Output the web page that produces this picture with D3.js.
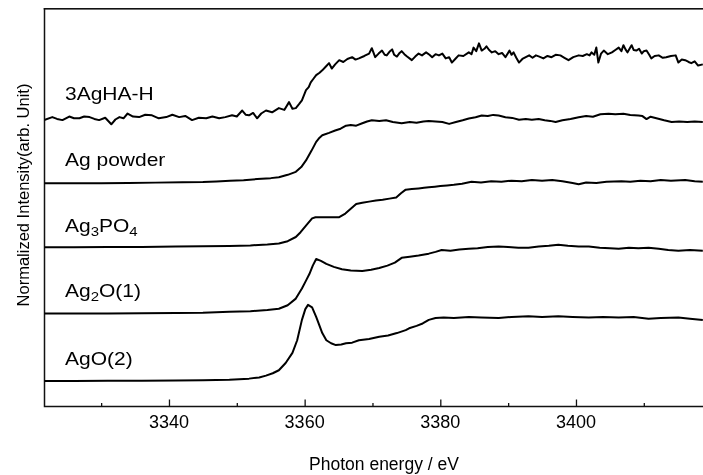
<!DOCTYPE html>
<html>
<head>
<meta charset="utf-8">
<script src="https://cdn.jsdelivr.net/npm/d3@7"></script>
<style>
  html, body { margin: 0; padding: 0; background: #fff; overflow: hidden; width: 703px; height: 475px; }
  #chart { position: fixed; left: 0; top: 0; width: 703px; height: 475px; }
  svg { display: block; font-family: "Liberation Sans", Arial, sans-serif; }
</style>
</head>
<body>
<div id="chart"></div>
<script>
// Sample names (top to bottom) and vertical offsets (arb. unit)
const sampleNames = ['3AgHA-H', 'Ag powder', 'Ag3PO4', 'Ag2O(1)', 'AgO(2)'];
const sampleOffsets = [4.808, 3.725, 2.658, 1.55, 0.425];

const xTicksMajor = [3340, 3360, 3380, 3400];
const xTicksMinor = [3330, 3350, 3370, 3390, 3410];

// Normalized spectra: [photon energy (eV), intensity]
const agHA = [
  [3321.6,-0.03],[3322.8,0.02],[3323.5,-0.01],[3324.3,-0.03],[3325.3,0.03],[3326,0.0],[3326.8,0.0],[3327.5,0.03],[3328.3,0.02],
  [3329,-0.01],[3329.7,-0.03],[3330.6,0.01],[3331.5,-0.10],[3332.1,-0.02],[3332.7,0.02],[3333.3,0.0],[3333.9,0.08],[3334.7,0.03],
  [3335.6,0.02],[3336.5,0.06],[3337.5,0.05],[3338.5,0.0],[3339.6,0.02],[3340.5,0.06],[3341.5,0.02],[3342.4,0.04],[3343.4,-0.03],
  [3344.4,0.01],[3345.5,0.0],[3346.4,0.03],[3347.4,0.0],[3348.3,0.02],[3349.3,0.05],[3350,0.03],[3350.8,0.13],[3351.3,0.06],
  [3351.8,0.05],[3352.4,0.09],[3353.0,0.0],[3353.6,0.08],[3354.3,0.13],[3355.2,0.10],[3356.2,0.17],[3357,0.14],[3357.7,0.27],
  [3358.2,0.16],[3358.7,0.17],[3359.2,0.24],[3359.6,0.30],[3360.2,0.47],[3360.6,0.52],[3360.9,0.60],[3361.3,0.66],[3361.7,0.72],
  [3362.2,0.76],[3362.6,0.80],[3363.1,0.86],[3363.6,0.92],[3364.0,0.83],[3364.5,0.90],[3365.1,0.97],[3365.7,0.94],[3366.3,0.99],
  [3367.0,1.02],[3367.5,0.98],[3368.0,1.00],[3368.8,1.04],[3369.5,1.08],[3369.9,1.17],[3370.4,1.02],[3370.9,1.08],[3371.4,1.13],
  [3371.8,1.06],[3372.1,1.05],[3372.5,1.11],[3372.9,1.15],[3373.2,1.06],[3373.6,1.03],[3374.0,1.09],[3374.3,1.12],[3374.7,1.07],
  [3375.1,1.03],[3375.8,0.97],[3376.3,1.03],[3376.8,1.08],[3377.3,1.05],[3377.9,1.10],[3378.4,1.06],[3378.8,1.02],[3379.3,1.07],
  [3379.8,1.05],[3380.3,1.08],[3380.8,1.00],[3381.3,1.02],[3381.7,0.93],[3382.2,0.99],[3382.7,1.05],[3383.4,1.04],[3384.2,1.10],
  [3384.6,1.07],[3384.9,1.18],[3385.3,1.12],[3385.7,1.25],[3386.1,1.13],[3386.5,1.16],[3386.8,1.20],[3387.2,1.14],[3387.6,1.10],
  [3388.1,1.12],[3388.6,1.07],[3389.1,1.09],[3389.6,1.02],[3390.2,1.13],[3390.5,1.06],[3390.8,1.10],[3391.2,1.01],[3391.6,0.93],
  [3392.1,0.99],[3392.6,1.02],[3393.1,1.05],[3393.6,1.01],[3394.1,1.05],[3394.6,1.03],[3395.2,1.00],[3395.8,1.04],[3396.4,1.02],
  [3397.0,1.06],[3397.7,1.05],[3398.3,1.01],[3398.9,0.97],[3399.6,1.02],[3400.4,1.05],[3401.0,1.04],[3401.6,1.07],[3402.0,1.05],
  [3402.3,1.10],[3402.7,1.06],[3403.0,1.18],[3403.3,0.93],[3403.7,1.08],[3404.1,1.13],[3404.7,1.07],[3405.3,1.10],[3405.8,1.14],
  [3406.3,1.18],[3406.7,1.12],[3407.0,1.22],[3407.3,1.15],[3407.6,1.10],[3407.9,1.16],[3408.2,1.22],[3408.5,1.14],[3408.9,1.13],
  [3409.3,1.16],[3409.7,1.08],[3410.0,1.12],[3410.4,1.13],[3410.8,1.06],[3411.1,1.00],[3411.6,1.04],[3412.2,1.05],[3412.8,1.01],
  [3413.3,1.02],[3414.0,1.04],[3414.7,1.05],[3415.1,0.93],[3415.6,0.98],[3416.1,0.97],[3416.6,0.94],[3417.0,0.92],[3417.5,0.95],
  [3418.0,0.88],[3418.7,0.90]
];

const agPowder = [
  [3321.6,0.0],[3326,0.0],[3330,0.0],[3334,0.005],[3338,0.01],[3342,0.015],[3345,0.02],[3347,0.03],[3349,0.04],[3351,0.05],
  [3353,0.07],[3355,0.085],[3356.2,0.10],[3357.5,0.14],[3358.7,0.19],[3359.5,0.27],[3360.2,0.38],[3361,0.54],[3361.7,0.69],
  [3362.2,0.76],[3362.6,0.80],[3363.6,0.84],[3364.5,0.88],[3365.3,0.91],[3366.1,0.96],[3366.8,0.97],[3367.6,0.96],[3368.5,1.00],
  [3369.2,1.03],[3369.9,1.05],[3371,1.04],[3372,1.05],[3373,1.02],[3374.3,1.00],[3375.5,1.02],[3376.5,1.01],[3377.5,1.03],
  [3378.3,1.04],[3379.3,1.03],[3380.3,1.02],[3381.3,0.99],[3382.3,1.02],[3383.3,1.05],[3384.2,1.08],[3385.2,1.10],[3386.1,1.13],
  [3387,1.12],[3387.8,1.14],[3388.6,1.13],[3389.6,1.10],[3390.6,1.09],[3391.6,1.06],[3392.6,1.07],[3393.5,1.06],[3394.5,1.07],
  [3395.4,1.05],[3396.2,1.04],[3397,1.02],[3398,1.05],[3399.2,1.07],[3400.4,1.10],[3401.5,1.12],[3402.5,1.11],[3403.6,1.15],
  [3404.8,1.16],[3405.8,1.15],[3407,1.16],[3408,1.14],[3409.2,1.13],[3409.8,1.12],[3410.4,1.07],[3411,1.11],[3412,1.08],
  [3413,1.05],[3414.1,1.02],[3415.2,1.03],[3416.4,1.02],[3417.5,1.03],[3418.7,1.02]
];

const ag3po4 = [
  [3321.6,0],[3326,0],[3331,0.003],[3336,0.005],[3341,0.01],[3345,0.015],[3348.9,0.02],[3352,0.03],[3354.5,0.045],[3356.2,0.06],
  [3357.5,0.10],[3358.7,0.17],[3359.4,0.25],[3360.2,0.36],[3361.1,0.48],[3361.6,0.50],[3362.1,0.50],[3363.5,0.50],[3365.1,0.50],
  [3366,0.56],[3366.8,0.64],[3367.6,0.72],[3368.5,0.74],[3369.5,0.76],[3370.5,0.78],[3371.5,0.79],[3372.5,0.81],[3373.5,0.83],
  [3374.2,0.90],[3374.9,0.96],[3375.8,0.97],[3376.8,0.98],[3377.6,0.99],[3378.3,1.00],[3379.2,1.01],[3380,1.02],[3381,1.03],
  [3382,1.04],[3383.2,1.06],[3384.6,1.09],[3386,1.08],[3387.5,1.10],[3389,1.09],[3390.5,1.11],[3392,1.10],[3393.5,1.12],
  [3395,1.11],[3396.5,1.12],[3398,1.10],[3399.5,1.07],[3400.4,1.05],[3401.5,1.08],[3403,1.07],[3404.5,1.09],[3406.7,1.10],
  [3408,1.09],[3409.5,1.11],[3411,1.10],[3412.5,1.12],[3414,1.11],[3416.1,1.12],[3417.5,1.10],[3418.7,1.09]
];

const ag2o = [
  [3321.6,0],[3326,0],[3331,0.003],[3336,0.006],[3341,0.01],[3345,0.015],[3348.9,0.03],[3352,0.04],[3354.5,0.06],[3356.2,0.08],
  [3357.5,0.14],[3358.7,0.25],[3359.6,0.42],[3360.2,0.55],[3360.7,0.66],[3361.2,0.80],[3361.7,0.91],[3362.4,0.88],[3363.2,0.83],
  [3364.3,0.78],[3365.5,0.74],[3366.8,0.72],[3368.5,0.71],[3369.8,0.73],[3371,0.76],[3372.2,0.80],[3373.3,0.85],[3374.3,0.93],
  [3375.5,0.95],[3376.8,0.97],[3378.3,1.00],[3379.3,1.03],[3380.2,1.06],[3381.5,1.05],[3382.8,1.07],[3384.2,1.08],[3385.5,1.09],
  [3387,1.11],[3388.6,1.12],[3390,1.11],[3391.5,1.10],[3393,1.10],[3394.5,1.12],[3396,1.13],[3397.4,1.15],[3398.8,1.13],
  [3400.4,1.12],[3401.9,1.12],[3403.5,1.10],[3405,1.09],[3406.3,1.08],[3407.8,1.10],[3409.2,1.09],[3410.7,1.10],[3412.2,1.08],
  [3413.6,1.06],[3415.1,1.05],[3416.8,1.06],[3418.7,1.05]
];

const agO = [
  [3321.6,0],[3326,0],[3331,0.003],[3336,0.006],[3341,0.01],[3345,0.015],[3348.9,0.02],[3351.8,0.04],[3353.3,0.06],[3354.3,0.09],
  [3355.3,0.13],[3356.2,0.18],[3357.2,0.30],[3358.2,0.47],[3358.9,0.68],[3359.6,1.02],[3360.1,1.20],[3360.5,1.27],[3361.1,1.23],
  [3361.7,1.07],[3362.2,0.92],[3362.6,0.80],[3363.2,0.68],[3363.9,0.63],[3364.6,0.60],[3365.4,0.61],[3366.1,0.63],[3367,0.64],
  [3368,0.68],[3369.5,0.70],[3371,0.74],[3372.3,0.76],[3373.6,0.80],[3374.9,0.85],[3375.4,0.88],[3376.5,0.92],[3377.4,0.96],
  [3378.3,1.02],[3379.3,1.05],[3380.5,1.06],[3382,1.05],[3384.2,1.07],[3386,1.06],[3388.6,1.05],[3390.5,1.07],[3393,1.08],
  [3395,1.07],[3397.4,1.08],[3399.5,1.07],[3401.9,1.06],[3404,1.07],[3406.3,1.06],[3408.5,1.07],[3410.7,1.04],[3412.5,1.05],
  [3415.1,1.06],[3416.8,1.04],[3418.7,1.02]
];

const spectra = [agHA, agPowder, ag3po4, ag2o, agO];

const width = 703, height = 475;
const margin = { left: 44.5, top: 8, right: 0, bottom: 68.5 };

const svg = d3.select('#chart').append('svg')
  .attr('width', width)
  .attr('height', height)
  .attr('viewBox', `0 0 ${width} ${height}`);

const x = d3.scaleLinear()
  .domain([3321.65, 3418.8])
  .range([margin.left, 703.5]);

const y = d3.scaleLinear()
  .domain([0, 6.64])
  .range([height - margin.bottom, margin.top + 0.5]);

// Clip for the curves
svg.append('defs').append('clipPath').attr('id', 'plotClip')
  .append('rect')
  .attr('x', margin.left).attr('y', margin.top)
  .attr('width', width - margin.left).attr('height', y(0) - margin.top);

// Frame: top edge as a filled bar, left and bottom edges as lines
svg.append('rect')
  .attr('x', margin.left - 0.75)
  .attr('y', margin.top)
  .attr('width', width - margin.left + 1)
  .attr('height', 1.6)
  .attr('fill', '#111');

const frame = svg.append('g')
  .attr('stroke', '#111')
  .attr('stroke-width', 1.5)
  .attr('fill', 'none');
frame.append('path')
  .attr('d', `M${margin.left},${margin.top}V${y(0)}H${width}`);

// Ticks pointing inward
svg.append('g')
  .attr('transform', `translate(0,${y(0)})`)
  .call(d3.axisTop(x).tickValues(xTicksMajor).tickSize(7).tickFormat(''))
  .call(g => g.select('.domain').remove())
  .call(g => g.selectAll('line').attr('stroke', '#111').attr('stroke-width', 1.3));

svg.append('g')
  .attr('transform', `translate(0,${y(0)})`)
  .call(d3.axisTop(x).tickValues(xTicksMinor).tickSize(3.5).tickFormat(''))
  .call(g => g.select('.domain').remove())
  .call(g => g.selectAll('line').attr('stroke', '#111').attr('stroke-width', 1.3));

// Tick labels
svg.append('g')
  .selectAll('text')
  .data(xTicksMajor)
  .enter()
  .append('text')
  .attr('x', d => x(d))
  .attr('y', 428)
  .attr('text-anchor', 'middle')
  .attr('font-size', '18px')
  .attr('fill', '#000')
  .text(d => d);

// Axis titles
svg.append('text')
  .attr('x', 384)
  .attr('y', 470)
  .attr('text-anchor', 'middle')
  .attr('font-size', '17.5px')
  .attr('fill', '#000')
  .text('Photon energy / eV');

svg.append('text')
  .attr('transform', 'translate(29,195) rotate(-90)')
  .attr('text-anchor', 'middle')
  .attr('font-size', '16.5px')
  .attr('fill', '#000')
  .text('Normalized Intensity(arb. Unit)');

// Spectra
const line = d3.line()
  .x(d => x(d[0]))
  .y(d => d[1]);

const curves = svg.append('g').attr('clip-path', 'url(#plotClip)');
spectra.forEach((data, i) => {
  curves.append('path')
    .datum(data.map(p => [p[0], y(p[1] + sampleOffsets[i])]))
    .attr('d', line)
    .attr('fill', 'none')
    .attr('stroke', '#000')
    .attr('stroke-width', 2)
    .attr('stroke-linejoin', 'round');
});

// Sample labels (with chemical subscripts)
const labelBaselines = [100, 166, 232, 297, 365];
const labelParts = [
  [['3AgHA-H', false]],
  [['Ag powder', false]],
  [['Ag', false], ['3', true], ['PO', false], ['4', true]],
  [['Ag', false], ['2', true], ['O(1)', false]],
  [['AgO(2)', false]]
];

labelParts.forEach((parts, i) => {
  const t = svg.append('text')
    .attr('transform', `translate(65,${labelBaselines[i]}) scale(1.2,1)`)
    .attr('font-size', '17.5px')
    .attr('fill', '#000');
  let shift = 0;
  parts.forEach(([s, sub]) => {
    const target = sub ? 4 : 0;
    t.append('tspan')
      .attr('font-size', sub ? '12.5px' : '17.5px')
      .attr('dy', target - shift)
      .text(s);
    shift = target;
  });
});
</script>
</body>
</html>
